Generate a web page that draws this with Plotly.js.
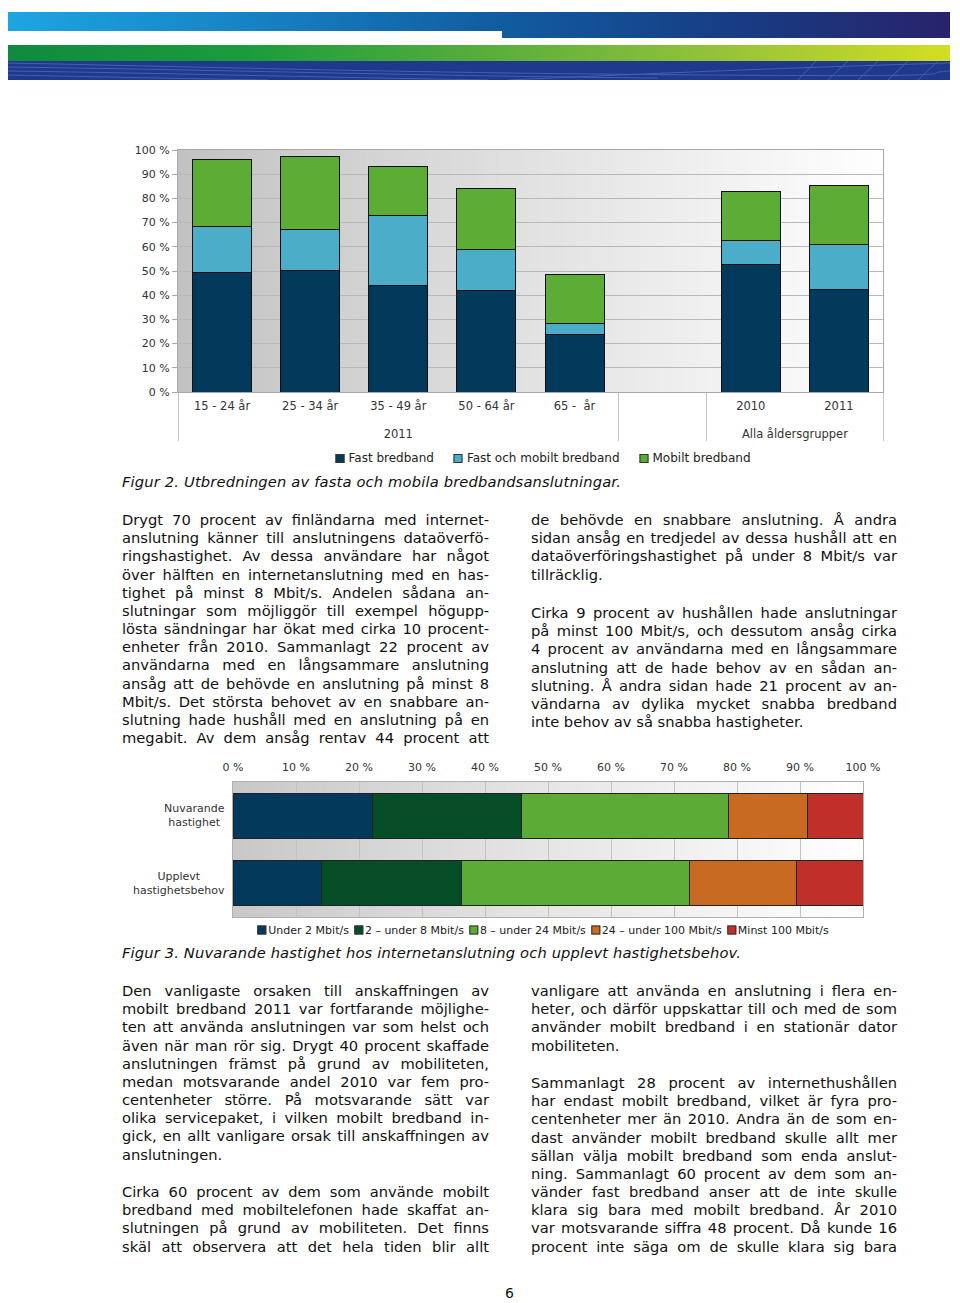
<!DOCTYPE html>
<html>
<head>
<meta charset="utf-8">
<script src="https://cdn.plot.ly/plotly-3.0.1.min.js"></script>
<style>
  html, body { margin:0; padding:0; background:#fff; overflow:hidden; }
  body { width:960px; height:1303px; position:relative; font-family:"DejaVu Sans", Verdana, sans-serif; color:#111; }
  .abs { position:absolute; }
  .col { position:absolute; font-size:14.7px; line-height:18.17px; }
  .ln { white-space:nowrap; text-align:justify; text-align-last:justify; overflow:visible; }
  .ln.last { text-align:left; text-align-last:left; }
  .cap { position:absolute; font-style:italic; font-size:14.7px; white-space:nowrap; left:122px; }
  .leg { position:absolute; transform:translate(-50%,-50%); white-space:nowrap; color:#222; display:flex; align-items:center; }
  .leg .it { display:flex; align-items:center; }
  .leg .sq { display:inline-block; border:1px solid #333; box-sizing:border-box; }
</style>
</head>
<body>

<!-- banner -->
<div class="abs" style="left:8px;top:12px;width:942px;height:26px;background:linear-gradient(90deg,#1da6e2 0%,#1783c4 25%,#115fa3 50%,#163f86 75%,#28236b 100%);"></div>
<div class="abs" style="left:8px;top:31px;width:494px;height:7px;background:#fff;"></div>
<div class="abs" style="left:8px;top:45px;width:942px;height:16px;background:linear-gradient(90deg,#108a3e 0%,#1a9c3c 25%,#56ad3c 50%,#94c23a 75%,#d3de22 100%);"></div>
<div class="abs" style="left:8px;top:61px;width:942px;height:19px;background:#20398c;overflow:hidden;">
  <svg width="942" height="19" style="position:absolute;left:0;top:0">
    <g fill="none" stroke="#5e7fd0" stroke-width="1" opacity="0.55">
      <path d="M0,2 C200,6 400,12 700,14 S900,12 942,10"/>
      <path d="M0,6 C220,9 420,15 650,17"/>
      <path d="M0,10 C150,12 300,16 480,19"/>
      <path d="M0,14 C100,16 200,18 260,19"/>
      <path d="M500,19 C650,12 800,6 942,2"/>
      <path d="M820,19 L840,0 M850,19 L870,0 M880,19 L900,0 M910,19 L930,0 M790,19 L808,0"/>
    </g>
  </svg>
</div>

<div id="chart1" class="abs" style="left:0;top:130px;width:960px;height:320px;"></div>
<div id="leg1" class="leg" style="left:543px;top:458px;font-size:12px;"></div>
<div class="cap" id="cap2" style="top:473px;" data-w="499">Figur 2. Utbredningen av fasta och mobila bredbandsanslutningar.</div>

<div class="col" id="c1" style="left:122px;top:511px;width:367px;"></div>
<div class="col" id="c2" style="left:531px;top:511px;width:366px;"></div>
<div class="col" id="c3" style="left:531px;top:604px;width:366px;"></div>

<div id="chart2" class="abs" style="left:0;top:745px;width:960px;height:180px;"></div>
<div id="leg2" class="leg" style="left:543px;top:930px;font-size:11px;"></div>
<div class="cap" id="cap3" style="top:944px;" data-w="619">Figur 3. Nuvarande hastighet hos internetanslutning och upplevt hastighetsbehov.</div>

<div class="col" id="c4" style="left:122px;top:982px;width:367px;"></div>
<div class="col" id="c5" style="left:122px;top:1183px;width:367px;"></div>
<div class="col" id="c6" style="left:531px;top:982px;width:366px;"></div>
<div class="col" id="c7" style="left:531px;top:1074px;width:366px;"></div>

<div class="abs" style="left:505px;top:1285px;font-size:14px;">6</div>

<script>
// ---------- Figure 2 data ----------
const ageGroups = ["\u00a0<br>2011", "\u00a0<br>2011", "\u00a0<br>2011", "\u00a0<br>2011", "\u00a0<br>2011", " ", "\u00a0<br>Alla åldersgrupper", "\u00a0<br>Alla åldersgrupper"];
const ageCats = ["15 - 24 år", "25 - 34 år", "35 - 49 år", "50 - 64 år", "65 - \u00a0år", " ", "2010", "2011"];
const fastBredband = [49.5, 50.3, 44.0, 41.9, 23.6, null, 52.6, 42.2];
const fastOchMobilt = [18.8, 16.9, 28.8, 17.0, 4.7, null, 10.0, 18.8];
const mobiltBredband = [27.6, 30.2, 20.4, 25.2, 20.4, null, 20.4, 24.2];
const fig2Series = ["Fast bredband", "Fast och mobilt bredband", "Mobilt bredband"];
const fig2Colors = ["#03395b", "#4badc8", "#5cac35"];
const yTicks = [0, 10, 20, 30, 40, 50, 60, 70, 80, 90, 100];

// ---------- Figure 3 data ----------
const speedRows = ["Nuvarande hastighet", "Upplevt hastighetsbehov"];
const speedRowLabels = ["Nuvarande<br>hastighet", "Upplevt<br>hastighetsbehov"];
const speedSeries = ["Under 2 Mbit/s", "2 – under 8 Mbit/s", "8 – under 24 Mbit/s", "24 – under 100 Mbit/s", "Minst 100 Mbit/s"];
const under2 = [22.2, 14.0];
const from2to8 = [23.6, 22.2];
const from8to24 = [32.8, 36.3];
const from24to100 = [12.6, 17.0];
const min100 = [8.8, 10.5];
const fig3Colors = ["#03395b", "#054d26", "#5cab37", "#c96a22", "#c0302a"];

// ---------- Text ----------
const col1 = [
 "Drygt 70 procent av finländarna med internet-",
 "anslutning känner till anslutningens dataöverfö-",
 "ringshastighet. Av dessa användare har något",
 "över hälften en internetanslutning med en has-",
 "tighet på minst 8 Mbit/s. Andelen sådana an-",
 "slutningar som möjliggör till exempel högupp-",
 "lösta sändningar har ökat med cirka 10 procent-",
 "enheter från 2010. Sammanlagt 22 procent av",
 "användarna med en långsammare anslutning",
 "ansåg att de behövde en anslutning på minst 8",
 "Mbit/s. Det största behovet av en snabbare an-",
 "slutning hade hushåll med en anslutning på en",
 "megabit. Av dem ansåg rentav 44 procent att"
];
const col2 = [
 "de behövde en snabbare anslutning. Å andra",
 "sidan ansåg en tredjedel av dessa hushåll att en",
 "dataöverföringshastighet på under 8 Mbit/s var",
 "*tillräcklig."
];
const col3 = [
 "Cirka 9 procent av hushållen hade anslutningar",
 "på minst 100 Mbit/s, och dessutom ansåg cirka",
 "4 procent av användarna med en långsammare",
 "anslutning att de hade behov av en sådan an-",
 "slutning. Å andra sidan hade 21 procent av an-",
 "vändarna av dylika mycket snabba bredband",
 "*inte behov av så snabba hastigheter."
];
const col4 = [
 "Den vanligaste orsaken till anskaffningen av",
 "mobilt bredband 2011 var fortfarande möjlighe-",
 "ten att använda anslutningen var som helst och",
 "även när man rör sig. Drygt 40 procent skaffade",
 "anslutningen främst på grund av mobiliteten,",
 "medan motsvarande andel 2010 var fem pro-",
 "centenheter större. På motsvarande sätt var",
 "olika servicepaket, i vilken mobilt bredband in-",
 "gick, en allt vanligare orsak till anskaffningen av",
 "*anslutningen."
];
const col5 = [
 "Cirka 60 procent av dem som använde mobilt",
 "bredband med mobiltelefonen hade skaffat an-",
 "slutningen på grund av mobiliteten. Det finns",
 "skäl att observera att det hela tiden blir allt"
];
const col6 = [
 "vanligare att använda en anslutning i flera en-",
 "heter, och därför uppskattar till och med de som",
 "använder mobilt bredband i en stationär dator",
 "*mobiliteten."
];
const col7 = [
 "Sammanlagt 28 procent av internethushållen",
 "har endast mobilt bredband, vilket är fyra pro-",
 "centenheter mer än 2010. Andra än de som en-",
 "dast använder mobilt bredband skulle allt mer",
 "sällan välja mobilt bredband som enda anslut-",
 "ning. Sammanlagt 60 procent av dem som an-",
 "vänder fast bredband anser att de inte skulle",
 "klara sig bara med mobilt bredband. År 2010",
 "var motsvarande siffra 48 procent. Då kunde 16",
 "procent inte säga om de skulle klara sig bara"
];

function fillCol(id, lines) {
  const el = document.getElementById(id);
  const W = el.clientWidth;
  lines.forEach(t => {
    const d = document.createElement('div');
    d.className = 'ln';
    let txt = t;
    if (t.startsWith('*')) { d.classList.add('last'); txt = t.slice(1); }
    const s = document.createElement('span');
    s.textContent = txt;
    s.style.whiteSpace = 'nowrap';
    el.appendChild(d);
    d.appendChild(s);
    const nat = s.getBoundingClientRect().width;
    d.removeChild(s);
    d.textContent = txt;
    if (nat > W) {
      d.style.letterSpacing = (-(nat - W + 1) / txt.length) + 'px';
    }
  });
}
[["c1",col1],["c2",col2],["c3",col3],["c4",col4],["c5",col5],["c6",col6],["c7",col7]].forEach(p => fillCol(p[0], p[1]));

document.querySelectorAll('.cap').forEach(c => {
  const target = +c.dataset.w;
  const w = c.getBoundingClientRect().width;
  c.style.letterSpacing = ((target - w) / c.textContent.length) + 'px';
});

function makeLegend(id, names, colors, sq, gapText, gapItem) {
  const el = document.getElementById(id);
  names.forEach((n, i) => {
    const it = document.createElement('div');
    it.className = 'it';
    if (i < names.length - 1) it.style.marginRight = gapItem + 'px';
    const s = document.createElement('span');
    s.className = 'sq';
    s.style.width = sq + 'px'; s.style.height = sq + 'px';
    s.style.background = colors[i];
    s.style.marginRight = gapText + 'px';
    const t = document.createElement('span');
    t.textContent = n;
    it.appendChild(s); it.appendChild(t);
    el.appendChild(it);
  });
}
makeLegend('leg1', fig2Series, fig2Colors, 9, 4, 20);
makeLegend('leg2', speedSeries, fig3Colors, 9, 2, 5);

function gradientImage(stops) {
  const cv = document.createElement('canvas');
  cv.width = 400; cv.height = 4;
  const ctx = cv.getContext('2d');
  const g = ctx.createLinearGradient(0, 0, 400, 0);
  stops.forEach(s => g.addColorStop(s[0], s[1]));
  ctx.fillStyle = g; ctx.fillRect(0, 0, 400, 4);
  return cv.toDataURL();
}

const font = {family: '"DejaVu Sans", Verdana, sans-serif', size: 11, color: '#333'};
const font1 = {family: '"DejaVu Sans", Verdana, sans-serif', size: 11.5, color: '#333'};

// ---------- Chart 1 ----------
const f2vals = [fastBredband, fastOchMobilt, mobiltBredband];
const traces1 = f2vals.map((v, i) => ({
  type: 'bar',
  x: [ageGroups, ageCats],
  y: v,
  name: fig2Series[i],
  marker: {color: fig2Colors[i], line: {color: '#111', width: 1}},
  hoverinfo: 'skip'
}));
const layout1 = {
  barmode: 'stack',
  bargap: 0.33,
  showlegend: false,
  width: 960, height: 320,
  margin: {l: 178, r: 77, t: 20, b: 58},
  paper_bgcolor: 'rgba(0,0,0,0)',
  plot_bgcolor: 'rgba(0,0,0,0)',
  font: font1,
  xaxis: {
    type: 'multicategory',
    showdividers: true, dividercolor: '#c4c4c4', dividerwidth: 1,
    showline: true, linecolor: '#a8a8a8', mirror: true,
    showgrid: false, ticks: '', tickfont: font1, zeroline: false,
    ticklabelstandoff: 3
  },
  yaxis: {
    range: [0, 100], tickvals: yTicks, ticktext: yTicks.map(v => v + ' %'),
    showgrid: true, gridcolor: '#b8b8b8', gridwidth: 1,
    ticks: 'outside', ticklen: 5, tickcolor: '#a8a8a8',
    showline: true, linecolor: '#a8a8a8', mirror: true,
    zeroline: false, tickfont: font
  },
  images: [{
    source: gradientImage([[0, '#c2c2c2'], [0.5, '#e2e2e2'], [1, '#ffffff']]),
    xref: 'paper', yref: 'paper', x: 0, y: 1, sizex: 1, sizey: 1,
    sizing: 'stretch', xanchor: 'left', yanchor: 'top', layer: 'below'
  }]
};
Plotly.newPlot('chart1', traces1, layout1, {displayModeBar: false, staticPlot: true});

// ---------- Chart 2 ----------
const f3vals = [under2, from2to8, from8to24, from24to100, min100];
const traces2 = f3vals.map((v, i) => ({
  type: 'bar',
  orientation: 'h',
  y: speedRows,
  x: v,
  name: speedSeries[i],
  marker: {color: fig3Colors[i], line: {color: '#222', width: 1}},
  hoverinfo: 'skip'
}));
const xTicks2 = [0, 10, 20, 30, 40, 50, 60, 70, 80, 90, 100];
const layout2 = {
  barmode: 'stack',
  bargap: 0.33,
  showlegend: false,
  width: 960, height: 180,
  margin: {l: 233, r: 97, t: 37, b: 8},
  paper_bgcolor: 'rgba(0,0,0,0)',
  plot_bgcolor: 'rgba(0,0,0,0)',
  font: font,
  xaxis: {
    side: 'top', range: [0, 100], tickvals: xTicks2, ticktext: xTicks2.map(v => v + ' %'),
    showgrid: true, gridcolor: '#c2c2c2', ticks: '',
    showline: true, linecolor: '#b0b0b0', mirror: true, zeroline: false,
    tickfont: font, ticklabelstandoff: 6
  },
  yaxis: {
    type: 'category', autorange: 'reversed', showticklabels: false,
    showline: true, linecolor: '#b0b0b0', mirror: true, showgrid: false, ticks: ''
  },
  annotations: speedRows.map((r, i) => ({
    xref: 'paper', yref: 'y', x: -0.01, y: r,
    text: speedRowLabels[i], showarrow: false,
    xanchor: 'right', align: 'center', font: font
  })),
  images: [{
    source: gradientImage([[0, '#c8c8c8'], [0.5, '#e6e6e6'], [1, '#ffffff']]),
    xref: 'paper', yref: 'paper', x: 0, y: 1, sizex: 1, sizey: 1,
    sizing: 'stretch', xanchor: 'left', yanchor: 'top', layer: 'below'
  }]
};
Plotly.newPlot('chart2', traces2, layout2, {displayModeBar: false, staticPlot: true});
</script>
</body>
</html>
